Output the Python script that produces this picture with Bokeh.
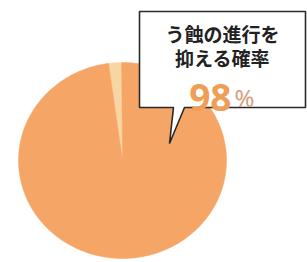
import numpy as np
from bokeh.plotting import figure
from bokeh.models import Range1d
from bokeh.core.properties import value
from bokeh.embed import file_html
from bokeh.resources import INLINE

# ---- data ----
labels = ["その他", "う蝕の進行を抑える"]
values = [2, 98]
colors = ["#F8D6A4", "#F5A566"]
callout_lines = ["う蝕の進行を", "抑える確率"]
pct_number = "98"
pct_sign = "%"

W, H = 307, 262
p = figure(width=W, height=H, output_backend="svg", toolbar_location=None,
           x_range=Range1d(0, W), y_range=Range1d(0, H),
           min_border=0)
p.axis.visible = False
p.grid.visible = False
p.outline_line_color = None
p.background_fill_color = "white"
p.border_fill_color = "white"

def Y(py):  # page y -> data y
    return H - py

# pie (slightly elliptical as in the reference)
cx, cy, rx, ry = 122, Y(160), 104, 98
start = np.deg2rad(90.5)
total = float(sum(values))
a0 = start
for v, c in zip(values, colors):
    a1 = a0 + 2 * np.pi * v / total
    t = np.linspace(a0, a1, max(4, int(v * 4)))
    xs = [cx] + list(cx + rx * np.cos(t)) + [cx]
    ys = [cy] + list(cy + ry * np.sin(t)) + [cy]
    p.patch(xs, ys, fill_color=c, line_color=c, line_width=0.5)
    a0 = a1

# callout box with pointer
bl, br, bt, bb = 139, 305, 11, 107
tipx, tipy = 169, 143
px0, px1 = 173, 184
bx = [bl, br, br, px1, tipx, px0, bl]
by = [Y(bt), Y(bt), Y(bb), Y(bb), Y(tipy), Y(bb), Y(bb)]
p.patch(bx, by, fill_color="white", line_color="#2a2a2a", line_width=1.6)

tc = (bl + br) / 2
font = value("Noto Sans CJK JP")
p.text(x=[tc, tc], y=[Y(33), Y(57)], text=callout_lines, text_font=font,
       text_font_style="bold", text_font_size="19px", text_color="#222222",
       text_align="center", text_baseline="middle")
p.text(x=[tc + 9], y=[Y(97)], text=[pct_number], text_font=value("Noto Sans"),
       text_font_style="bold", text_font_size="37px", text_color="#EE9E55",
       text_align="right", text_baseline="alphabetic")
p.text(x=[tc + 12], y=[Y(97)], text=[pct_sign], text_font=value("Noto Sans"),
       text_font_size="24px", text_color="#D2A07C",
       text_align="left", text_baseline="alphabetic")

open("out.html", "w").write(file_html(p, INLINE))
